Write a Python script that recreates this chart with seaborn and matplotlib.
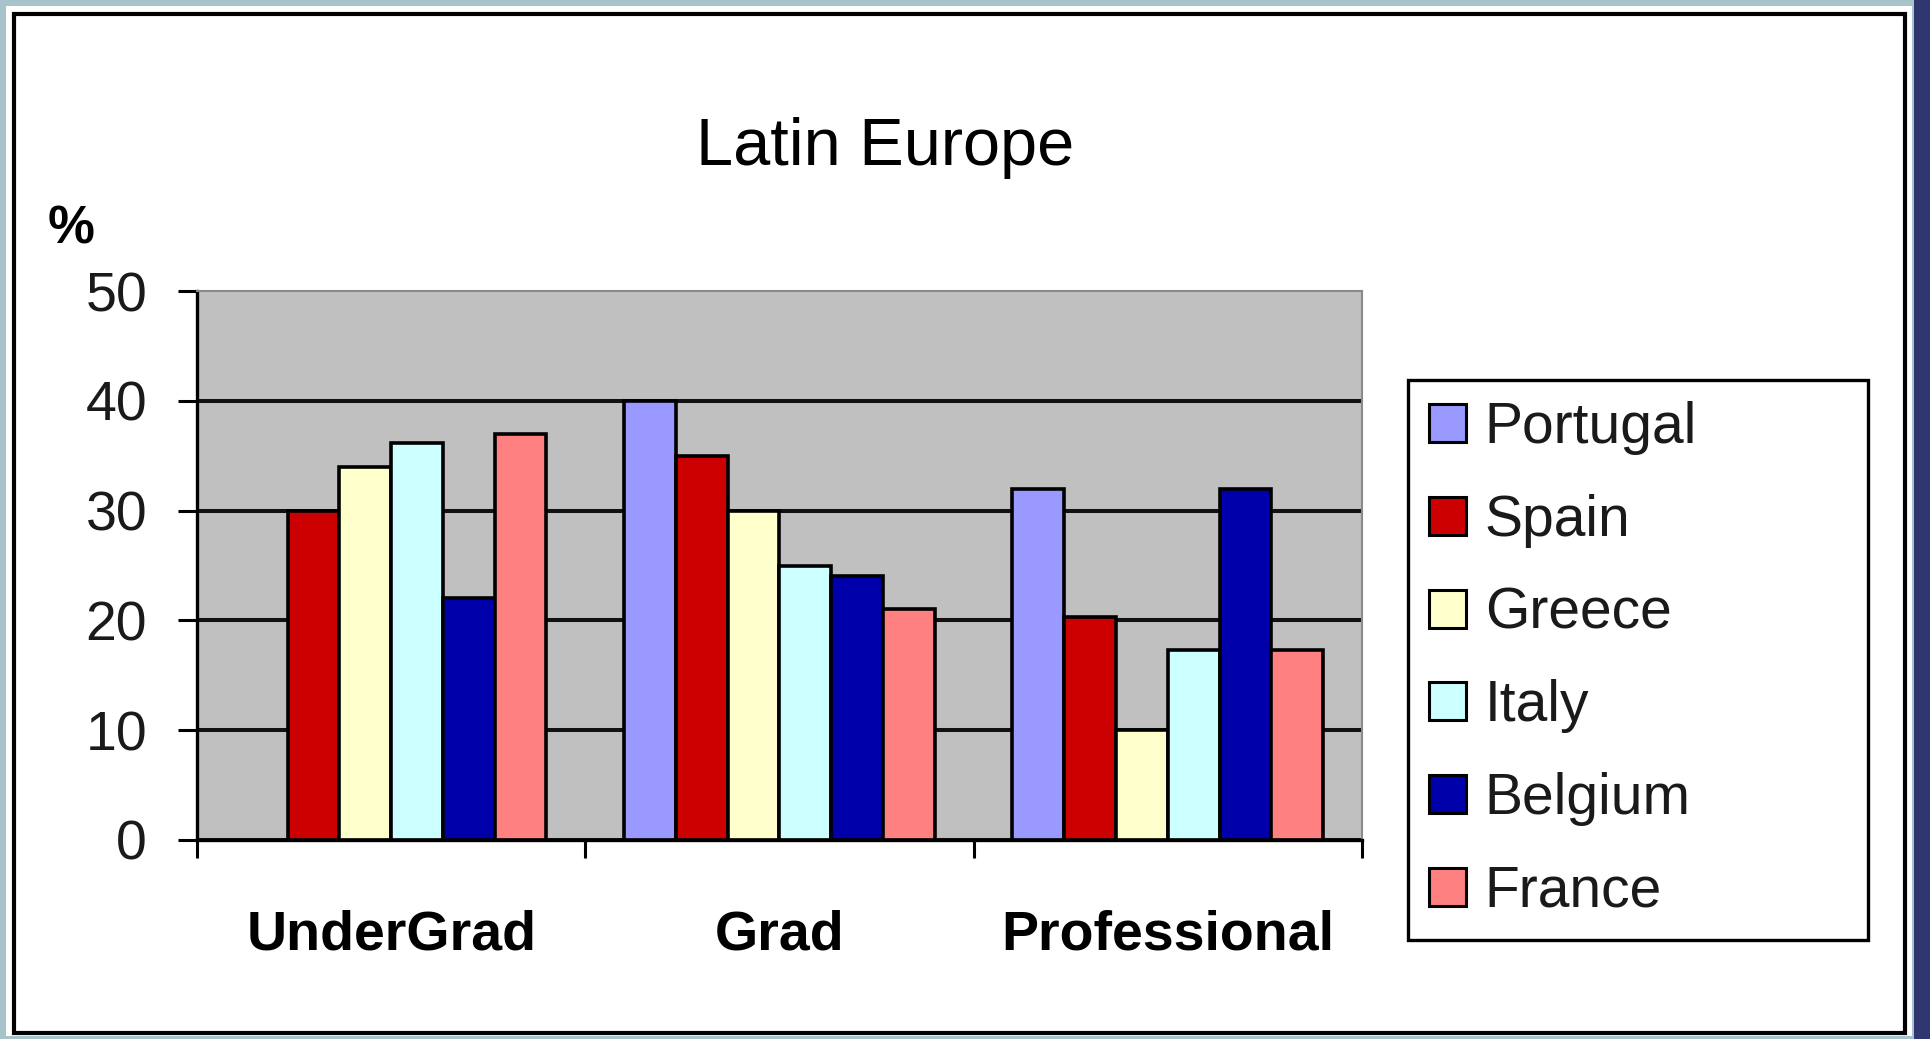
import numpy as np
import pandas as pd
import matplotlib
matplotlib.use("Agg")
import matplotlib.pyplot as plt
from matplotlib.patches import Rectangle, Patch
import seaborn as sns

# ---- data -------------------------------------------------------------
levels = ["UnderGrad", "Grad", "Professional"]
countries = ["Portugal", "Spain", "Greece", "Italy", "Belgium", "France"]
portugal = [np.nan, 40, 32]
spain = [30, 35, 20.3]
greece = [34, 30, 10]
italy = [36.2, 25, 17.3]
belgium = [22, 24, 32]
france = [37, 21, 17.3]
yticks = [0, 10, 20, 30, 40, 50]

colors = ["#9999FF", "#CC0000", "#FFFFCC", "#CCFFFF", "#0000AA", "#FF8080"]

series = [portugal, spain, greece, italy, belgium, france]
df = pd.DataFrame(
    [(lvl, c, v) for c, vals in zip(countries, series) for lvl, v in zip(levels, vals)],
    columns=["level", "country", "pct"],
)

# ---- style ------------------------------------------------------------
sns.set_theme(style="white")
plt.rcParams["font.family"] = ["Liberation Sans", "DejaVu Sans"]

W, H = 1931, 1039
fig = plt.figure(figsize=(W / 100, H / 100), dpi=100, facecolor="#a8c3c9")


def fx(px):
    return px / W


def fy(py):
    return 1 - py / H


# white sheet with a black frame and a dark strip on the right
fig.patches.append(Rectangle((fx(6), fy(1036)), fx(1912 - 6), (1036 - 6) / H,
                             transform=fig.transFigure, facecolor="white",
                             edgecolor="none", zorder=-3))
fig.patches.append(Rectangle((fx(14), fy(1033)), fx(1905 - 14), (1033 - 14) / H,
                             transform=fig.transFigure, facecolor="none",
                             edgecolor="black", linewidth=3, zorder=-2))
fig.patches.append(Rectangle((fx(1914), 0), fx(W - 1914), 1,
                             transform=fig.transFigure, facecolor="#30366f",
                             edgecolor="none", zorder=-3))

# ---- axes -------------------------------------------------------------
ax = fig.add_axes([fx(197), fy(840), fx(1362 - 197), (840 - 291) / H])
sns.barplot(data=df, x="level", y="pct", hue="country", order=levels,
            hue_order=countries, palette=colors, saturation=1,
            edgecolor="black", linewidth=2.6, errorbar=None, width=0.8,
            legend=False, ax=ax)

ax.set_facecolor("#C0C0C0")
ax.set_xlim(-0.5, 2.5)
ax.set_ylim(0, 50)
ax.set_xlabel("")
ax.set_ylabel("")
ax.set_yticks(yticks)
ax.set_yticklabels([str(t) for t in yticks], fontsize=40, color="#1a1a1a")
ax.set_xticks(range(len(levels)))
ax.set_xticklabels(levels, fontsize=40, fontweight="bold", color="black")
ax.set_xticks([-0.5, 0.5, 1.5, 2.5], minor=True)

ax.tick_params(axis="y", which="major", direction="out", length=14, width=2.2,
               color="black", pad=22, left=True)
ax.tick_params(axis="x", which="major", length=0, pad=50, bottom=True)
ax.tick_params(axis="x", which="minor", direction="out", length=13, width=2.2,
               color="black", bottom=True)

ax.set_axisbelow(True)
ax.yaxis.grid(True, color="#111111", linewidth=2.9)
ax.xaxis.grid(False)
ax.yaxis.get_gridlines()[-1].set_visible(False)

for side in ("left", "bottom"):
    ax.spines[side].set_color("black")
    ax.spines[side].set_linewidth(2.4)
for side in ("top", "right"):
    ax.spines[side].set_color("#8a8a8a")
    ax.spines[side].set_linewidth(1.5)

# ---- titles -----------------------------------------------------------
fig.text(fx(885), fy(165), "Latin Europe", ha="center", va="baseline",
         fontsize=48, color="black")
fig.text(fx(71), fy(229), "%", ha="center", va="center", fontsize=38,
         fontweight="bold", color="black")

# ---- legend -----------------------------------------------------------
handles = [Patch(facecolor=c, edgecolor="black", linewidth=2.2, label=n)
           for c, n in zip(colors, countries)]
leg = fig.legend(handles=handles, loc="upper left",
                 bbox_to_anchor=(fx(1408), fy(936), fx(1868 - 1408), (936 - 380) / H),
                 mode="expand", borderaxespad=0, fontsize=41, frameon=True,
                 fancybox=False, framealpha=1, facecolor="white",
                 edgecolor="black", handlelength=0.65, handleheight=0.65,
                 handletextpad=0.33, labelspacing=0.68, borderpad=0.37)
leg.get_frame().set_linewidth(2.4)
for t in leg.get_texts():
    t.set_color("#1a1a1a")

fig.savefig("out.png", dpi=100, facecolor=fig.get_facecolor())
